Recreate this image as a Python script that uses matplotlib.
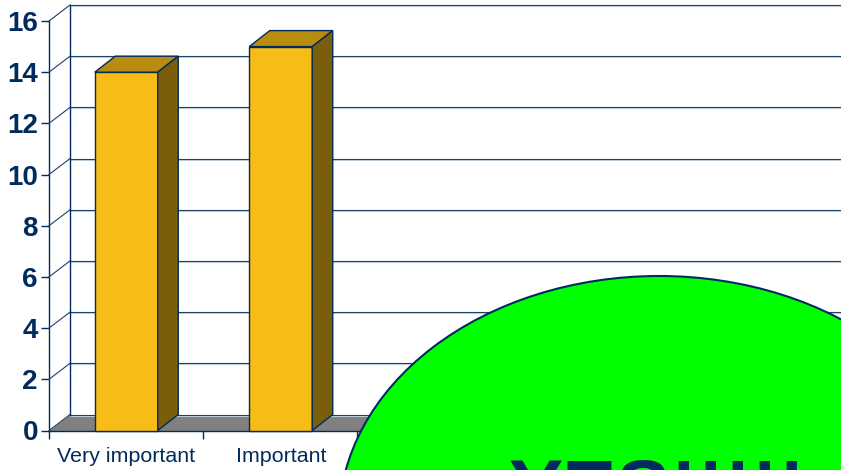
#!/usr/bin/env python3

import matplotlib
matplotlib.use('Agg')
import matplotlib.pyplot as plt
from matplotlib.patches import Ellipse, Polygon
from matplotlib.transforms import ScaledTranslation

categories = ['Very important', 'Important']
values = [14, 15]
y_ticks = [0, 2, 4, 6, 8, 10, 12, 14, 16]

NAVY = '#002b5c'
GRID = '#1c4266'
FRONT = '#f7bc16'
TOP = '#b88c0f'
SIDE = '#7a5e0b'
FLOOR = '#808080'

W, H = 841, 470
X0, X1 = 49, 841
Y0, Y1 = 430.5, 21
CAT_PX = 154.5
DEPTH_X = 21 / CAT_PX
DEPTH_Y = 16 / ((Y0 - Y1) / 16)
BAR_W = 63 / CAT_PX
BAR_DX = 20.5 / CAT_PX
BAR_DY = 16 / ((Y0 - Y1) / 16)


def draw_bar(ax, x, h):
    left, right = x - BAR_W / 2, x + BAR_W / 2
    ax.add_patch(Polygon([(left, 0), (right, 0), (right, h), (left, h)],
                         fc=FRONT, ec=NAVY, lw=1, zorder=5, clip_on=False))
    ax.add_patch(Polygon([(left, h), (right, h), (right + BAR_DX, h + BAR_DY), (left + BAR_DX, h + BAR_DY)],
                         fc=TOP, ec=NAVY, lw=1, zorder=5, clip_on=False))
    ax.add_patch(Polygon([(right, 0), (right + BAR_DX, BAR_DY), (right + BAR_DX, h + BAR_DY), (right, h)],
                         fc=SIDE, ec=NAVY, lw=1, zorder=5, clip_on=False))


def main():
    fig = plt.figure(figsize=(W / 100, H / 100), dpi=100)
    plt.rcParams['font.family'] = ['Liberation Sans', 'DejaVu Sans']
    ax = fig.add_axes([X0 / W, 1 - Y0 / H, (X1 - X0) / W, (Y0 - Y1) / H])
    ax.set_xlim(0, (X1 - X0) / CAT_PX)
    ax.set_ylim(0, 16)
    ax.patch.set_visible(False)
    for name in ['top', 'right']:
        ax.spines[name].set_visible(False)
    for name in ['left', 'bottom']:
        ax.spines[name].set_color(NAVY)
        ax.spines[name].set_linewidth(1)

    right = ax.get_xlim()[1]
    # floor
    ax.add_patch(Polygon([(0, 0), (right + 1, 0), (right + 1, DEPTH_Y), (DEPTH_X, DEPTH_Y)],
                         fc=FLOOR, ec='none', zorder=1, clip_on=True))
    # back wall and gridlines, with the pale shadow under each one
    below = ax.transData + ScaledTranslation(0, -1 / 100, fig.dpi_scale_trans)
    for t in y_ticks:
        ax.plot([DEPTH_X, right], [t + DEPTH_Y, t + DEPTH_Y], color='#c5d0dc', lw=0.8,
                zorder=2, clip_on=False, transform=below)
        ax.plot([DEPTH_X, right], [t + DEPTH_Y, t + DEPTH_Y], color=GRID, lw=0.8, zorder=3, clip_on=False)
        ax.plot([0, DEPTH_X], [t, t + DEPTH_Y], color=GRID, lw=0.8, zorder=3, clip_on=False)
    ax.plot([DEPTH_X, DEPTH_X], [DEPTH_Y, 16 + DEPTH_Y], color=NAVY, lw=1, zorder=3, clip_on=False)

    for i, v in enumerate(values):
        draw_bar(ax, i + 0.5, v)

    ax.set_yticks(y_ticks)
    ax.set_yticklabels([str(t) for t in y_ticks], fontsize=20, fontweight='bold', color=NAVY)
    ax.tick_params(axis='y', length=5.5, width=1, color=NAVY, pad=2.5)
    ax.set_xticks([t * 154 / CAT_PX for t in range(0, 6)])
    ax.set_xticklabels([''] * 6)
    ax.tick_params(axis='x', length=5.5, width=1, color=NAVY)
    for i, name in enumerate(categories):
        ax.annotate(name, (i + 0.5, 0), xytext=(0, -25.5), textcoords='offset pixels',
                    ha='center', va='center', fontsize=15.4, color=NAVY, annotation_clip=False)

    # green callout on top of everything
    over = fig.add_axes([0, 0, 1, 1], zorder=10)
    over.set_xlim(0, W)
    over.set_ylim(H, 0)
    over.axis('off')
    over.add_patch(Ellipse((659, 520), 640, 488, fc='#00ff00', ec=NAVY, lw=1.5))
    over.text(657, 457.5, 'YES!!!!!', fontsize=58.5, fontweight='bold', color=NAVY,
              ha='center', va='top', clip_on=True)

    fig.savefig('out.png', dpi=100)


if __name__ == '__main__':
    main()
